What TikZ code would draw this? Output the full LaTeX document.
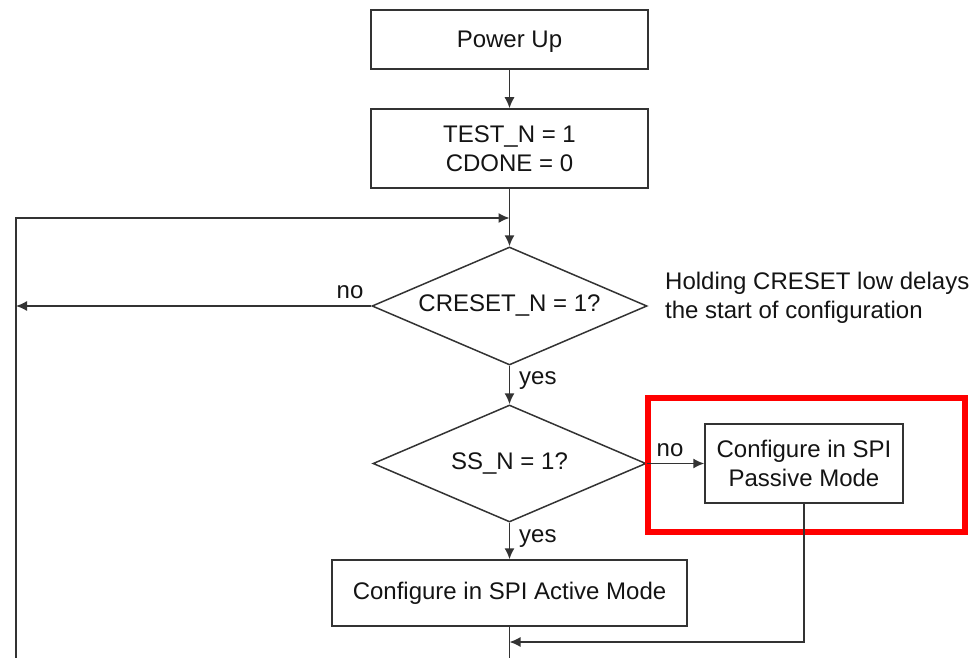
\documentclass[tikz,border=0pt]{standalone}
\usepackage{fontspec}
\setmainfont{Liberation Sans}
\usetikzlibrary{arrows.meta,shapes.geometric}
\definecolor{linec}{HTML}{333333}
\definecolor{txtc}{HTML}{141414}
\begin{document}
\begin{tikzpicture}[x=1pt,y=-1pt,
  every node/.style={font=\fontsize{24}{29}\selectfont, text=txtc, inner sep=0pt},
  procbox/.style={draw=linec, line width=1.5pt, rectangle, align=center},
  decbox/.style={draw=linec, line width=1.5pt, diamond, aspect=2.33},
  conn/.style={draw=linec, line width=1.5pt},
  arr/.style={conn, -{Latex[length=11pt,width=10pt]}},
  lbl/.style={}
]
\useasboundingbox (0,0) rectangle (972,658);

\node[procbox, minimum width=277, minimum height=59, text depth=0pt, text height=17pt] (pwr) at (509.5,39.5) {Power Up};
\node[procbox, minimum width=277, minimum height=79] (test) at (509.5,148.5) {TEST\_N = 1\\CDONE = 0};
\node[decbox, minimum width=275, minimum height=118] (crst) at (509.5,306) {CRESET\_N = 1?};
\node[decbox, minimum width=273, minimum height=117] (ss) at (509.5,463.5) {SS\_N = 1?};
\node[procbox, minimum width=198, minimum height=79] (pass) at (804,463.5) {Configure in SPI\\Passive Mode};
\node[procbox, minimum width=355, minimum height=66] (act) at (509.5,593) {Configure in SPI Active Mode};

\node[draw=red, line width=6pt, minimum width=317, minimum height=134] (hl) at (806.5,465) {};

\node[anchor=west, align=left] (note) at (665,298) {Holding CRESET low delays\\the start of configuration};

\coordinate (loopin) at (509.5,218);
\coordinate (lb) at (16,658);
\coordinate (ret) at (509.5,642);
\coordinate (bot) at (509.5,658);

\draw[arr] (pwr) -- (test);
\draw[arr] (test) -- (crst.north);
\draw[arr] (lb) |- (loopin);
\draw[arr] (crst.west) -- (crst.west -| lb);
\draw[arr] (crst) -- (ss);
\draw[arr] (ss.east) -- (pass.west);
\draw[arr] (ss) -- (act);
\draw[arr] (pass.south) |- (ret);
\draw[conn] (act.south) -- (bot);

\node[lbl] (no1) at (350,292) {no};
\node[lbl, anchor=west] (yes1) at (519,381) {yes};
\node[lbl] (no2) at (670,450) {no};
\node[lbl, anchor=west] (yes2) at (519,539) {yes};
\end{tikzpicture}
\end{document}
